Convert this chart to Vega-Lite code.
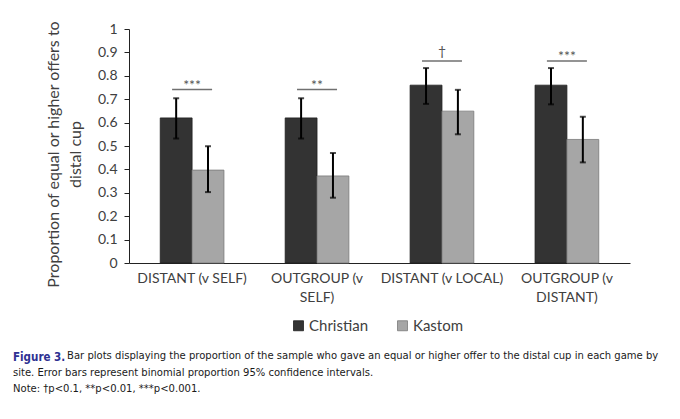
{
  "$schema": "https://vega.github.io/schema/vega-lite/v6.json",
  "width": 501,
  "height": 234,
  "autosize": {"type": "none"},
  "padding": {"left": 129, "top": 29, "right": 50, "bottom": 156},
  "background": "white",
  "config": {
    "view": {"stroke": null},
    "font": "Lato",
    "axis": {"labelColor": "#404040", "titleColor": "#404040", "domainColor": "#222222", "tickColor": "#222222", "grid": false},
    "axisY": {"tickCount": 10, "labelOverlap": false, "labelFlush": false}
  },
  "datasets": {
    "bars": [
      {"game": "DISTANT (v SELF)", "site": "Christian", "prop": 0.62, "lo": 0.532, "hi": 0.704},
      {"game": "DISTANT (v SELF)", "site": "Kastom", "prop": 0.397, "lo": 0.303, "hi": 0.499},
      {"game": "OUTGROUP (v SELF)", "site": "Christian", "prop": 0.62, "lo": 0.532, "hi": 0.704},
      {"game": "OUTGROUP (v SELF)", "site": "Kastom", "prop": 0.372, "lo": 0.279, "hi": 0.47},
      {"game": "DISTANT (v LOCAL)", "site": "Christian", "prop": 0.76, "lo": 0.68, "hi": 0.833},
      {"game": "DISTANT (v LOCAL)", "site": "Kastom", "prop": 0.649, "lo": 0.55, "hi": 0.74},
      {"game": "OUTGROUP (v DISTANT)", "site": "Christian", "prop": 0.76, "lo": 0.678, "hi": 0.833},
      {"game": "OUTGROUP (v DISTANT)", "site": "Kastom", "prop": 0.528, "lo": 0.43, "hi": 0.625}
    ],
    "sig": [
      {"game": "DISTANT (v SELF)", "level": 0.741, "mark": "***"},
      {"game": "OUTGROUP (v SELF)", "level": 0.741, "mark": "**"},
      {"game": "DISTANT (v LOCAL)", "level": 0.863, "mark": "†"},
      {"game": "OUTGROUP (v DISTANT)", "level": 0.863, "mark": "***"}
    ]
  },
  "title": {
    "text": "Figure 3.",
    "orient": "bottom",
    "anchor": "start",
    "frame": "group",
    "dx": -116,
    "offset": 18,
    "font": "DejaVu Sans Condensed, Roboto",
    "fontSize": 11.5,
    "fontWeight": "bold",
    "color": "#2e3192",
    "subtitle": [
      "\u200b\u00a0\u00a0\u00a0\u00a0\u00a0\u00a0\u00a0\u00a0\u00a0\u00a0\u00a0\u00a0\u00a0\u00a0\u00a0\u00a0\u00a0Bar plots displaying the proportion of the sample who gave an equal or higher offer to the distal cup in each game by",
      "site. Error bars represent binomial proportion 95% confidence intervals.",
      "Note: †p<0.1, **p<0.01, ***p<0.001."
    ],
    "subtitleFont": "DejaVu Sans Condensed, Roboto",
    "subtitleFontSize": 11.15,
    "subtitleColor": "#1a1a1a",
    "subtitlePadding": -13.5,
    "subtitleLineHeight": 16.5
  },
  "encoding": {
    "x": {
      "field": "game",
      "type": "nominal",
      "sort": null,
      "scale": {"paddingInner": 0.49, "paddingOuter": 0.25},
      "axis": {
        "title": null,
        "ticks": false,
        "labelAngle": 0,
        "labelFontSize": 14,
        "labelPadding": 8,
        "labelLineHeight": 19,
        "labelExpr": "indexof(datum.value, 'OUTGROUP') == 0 ? [slice(datum.value, 0, 11), slice(datum.value, 12)] : datum.value"
      }
    }
  },
  "layer": [
    {
      "data": {"name": "bars"},
      "mark": {"type": "bar", "strokeWidth": 0.8},
      "encoding": {
        "xOffset": {"field": "site", "type": "nominal", "scale": {"paddingInner": 0, "paddingOuter": 0}},
        "y": {
          "field": "prop",
          "type": "quantitative",
          "scale": {"domain": [0, 1], "nice": false},
          "axis": {
            "format": "~g",
            "title": ["Proportion of equal or higher offers to", "distal cup"],
            "titleFontSize": 16,
            "titleFontWeight": "normal",
            "titleLineHeight": 22,
            "titlePadding": 14,
            "titleY": 125,
            "labelFontSize": 14,
            "labelPadding": 7,
            "tickSize": 5
          }
        },
        "color": {
          "field": "site",
          "type": "nominal",
          "scale": {"domain": ["Christian", "Kastom"], "range": ["#333333", "#a6a6a6"]},
          "legend": {
            "title": null,
            "orient": "none",
            "legendX": 162,
            "legendY": 289,
            "direction": "horizontal",
            "symbolType": "square",
            "symbolSize": 100,
            "symbolStrokeWidth": 0.8,
            "labelFontSize": 15,
            "labelColor": "#404040",
            "labelOffset": 3,
            "columnPadding": 26
          }
        },
        "stroke": {
          "field": "site",
          "type": "nominal",
          "scale": {"domain": ["Christian", "Kastom"], "range": ["#1f1f1f", "#7a7a7a"]},
          "legend": null
        }
      }
    },
    {
      "data": {"name": "bars"},
      "mark": {"type": "rule", "color": "black", "strokeWidth": 2},
      "encoding": {
        "xOffset": {"field": "site", "type": "nominal"},
        "y": {"field": "lo", "type": "quantitative"},
        "y2": {"field": "hi"}
      }
    },
    {
      "data": {"name": "bars"},
      "mark": {"type": "tick", "color": "black", "size": 6, "thickness": 2},
      "encoding": {
        "xOffset": {"field": "site", "type": "nominal"},
        "y": {"field": "lo", "type": "quantitative"}
      }
    },
    {
      "data": {"name": "bars"},
      "mark": {"type": "tick", "color": "black", "size": 6, "thickness": 2},
      "encoding": {
        "xOffset": {"field": "site", "type": "nominal"},
        "y": {"field": "hi", "type": "quantitative"}
      }
    },
    {
      "data": {"name": "sig"},
      "mark": {"type": "tick", "color": "#333333", "size": 40, "thickness": 1.5},
      "encoding": {
        "y": {"field": "level", "type": "quantitative"}
      }
    },
    {
      "data": {"name": "sig"},
      "transform": [{"filter": "datum.mark != '†'"}],
      "mark": {"type": "text", "baseline": "alphabetic", "dy": 0, "fontSize": 14, "color": "#555555"},
      "encoding": {
        "y": {"field": "level", "type": "quantitative"},
        "text": {"field": "mark"}
      }
    },
    {
      "data": {"name": "sig"},
      "transform": [{"filter": "datum.mark == '†'"}],
      "mark": {"type": "text", "baseline": "alphabetic", "dy": -5, "fontSize": 14, "color": "#555555"},
      "encoding": {
        "y": {"field": "level", "type": "quantitative"},
        "text": {"field": "mark"}
      }
    }
  ]
}
